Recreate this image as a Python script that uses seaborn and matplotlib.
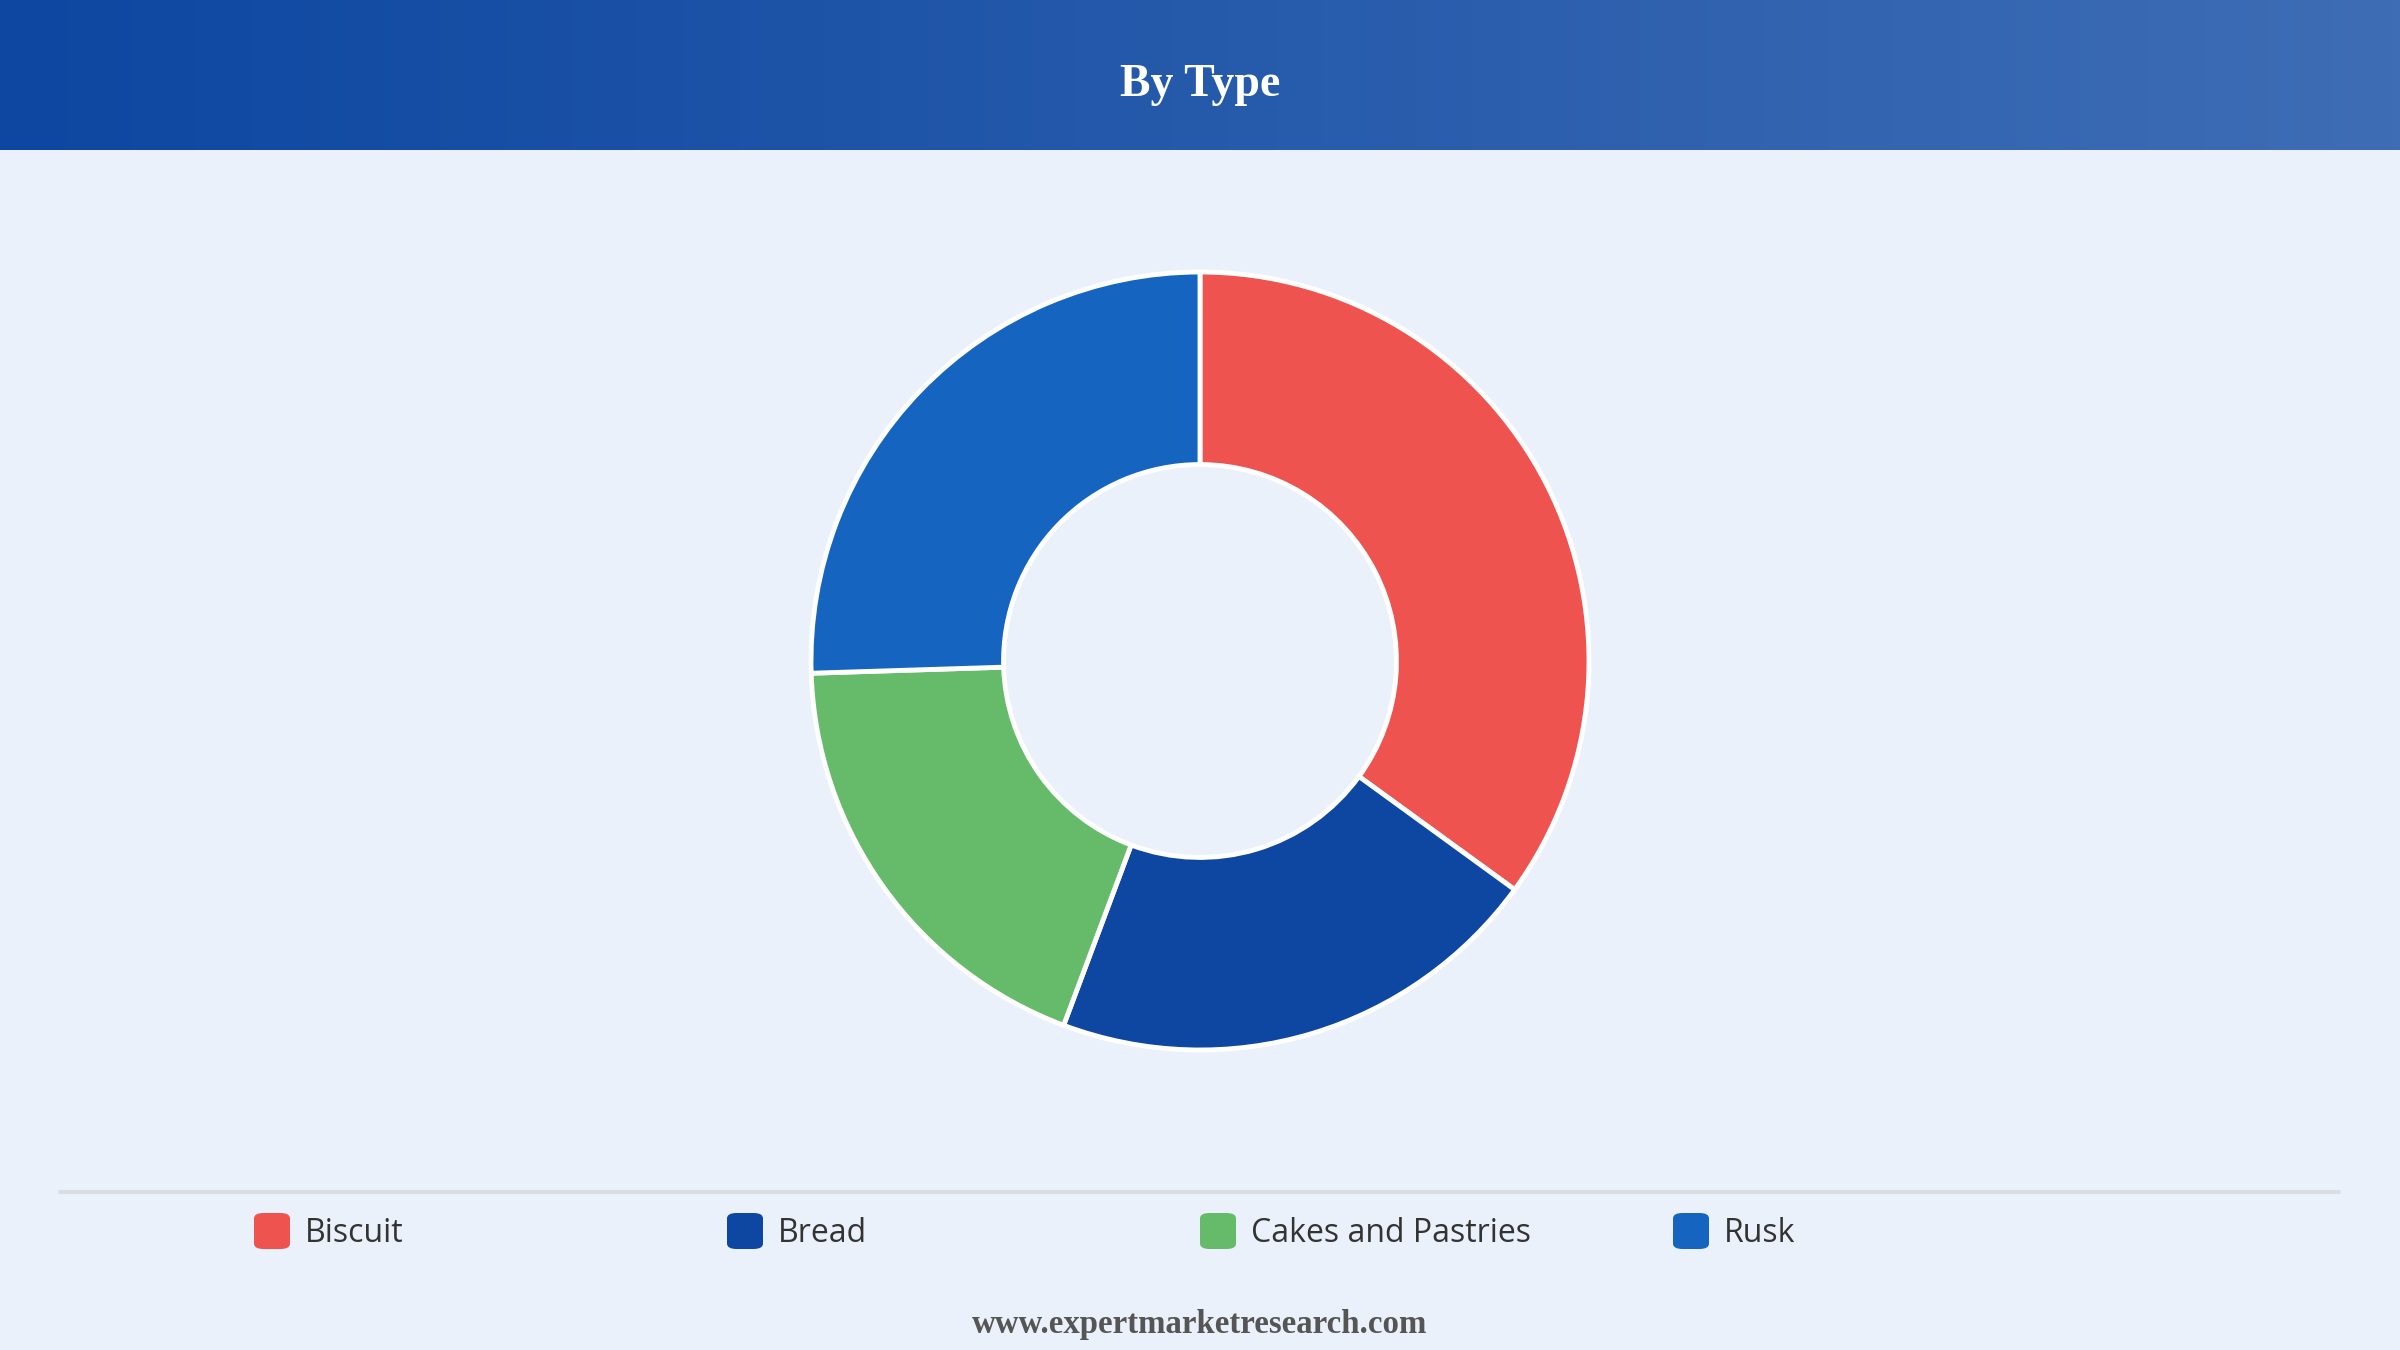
import numpy as np
import seaborn as sns
import matplotlib.pyplot as plt
from matplotlib.patches import FancyBboxPatch
from matplotlib.colors import LinearSegmentedColormap

# data
types = ['Biscuit', 'Bread', 'Cakes and Pastries', 'Rusk']
shares = [35.0, 20.7, 18.8, 25.5]
colors = ['#EF5350', '#0D47A1', '#66BB6A', '#1565C0']

sns.set_style('white')
plt.rcParams['font.family'] = ['Open Sans', 'DejaVu Sans']

W, H = 2400, 1350
bg = '#EAF1FB'
fig = plt.figure(figsize=(24, 13.5), dpi=100, facecolor=bg)

# header band with gradient
hdr = fig.add_axes([0, 1 - 150 / H, 1, 150 / H])
cmap = LinearSegmentedColormap.from_list('hdr', ['#0D47A1', '#3E6DB5'])
hdr.imshow(np.linspace(0, 1, 256).reshape(1, -1), aspect='auto', cmap=cmap,
           extent=[0, 1, 0, 1])
hdr.set_axis_off()
hdr.text(0.5, 0.43, 'By Type', color='white', ha='center', va='center',
         fontsize=33, fontweight='bold', family=['Liberation Serif', 'DejaVu Serif'])

# donut
cx, cy, r = 1200, 661, 389
pad = 1.03
side = 2 * r * pad
ax = fig.add_axes([(cx - side / 2) / W, 1 - (cy + side / 2) / H, side / W, side / H])
ax.set_facecolor('none')
ax.pie(shares, colors=colors, startangle=90, counterclock=False, radius=1,
       wedgeprops=dict(width=0.495, edgecolor='white', linewidth=3.5))
ax.set_xlim(-pad, pad)
ax.set_ylim(-pad, pad)
ax.set_aspect('equal')
ax.set_axis_off()

# separator line above legend
fig.add_artist(plt.Line2D([60 / W, 2339 / W], [1 - 1192 / H] * 2,
                          color='#DADDE2', linewidth=3))

# legend
x0, step, ly, sq = 254, 473, 1231, 36
for i, (lab, c) in enumerate(zip(types, colors)):
    x = x0 + i * step
    fig.add_artist(FancyBboxPatch(((x) / W, 1 - (ly + sq / 2) / H), sq / W, sq / H,
                                  boxstyle='round,pad=0,rounding_size=0.004',
                                  facecolor=c, edgecolor='none',
                                  transform=fig.transFigure))
    fig.text((x + sq + 15) / W, 1 - (ly + 2) / H, lab, ha='left', va='center',
             fontsize=23, color='#333333')

fig.text(0.5, 1 - 1324 / H, 'www.expertmarketresearch.com', ha='center', va='center',
         fontsize=23.7, fontweight='bold', color='#555555',
         family=['Liberation Serif', 'DejaVu Serif'])

fig.savefig('out.png', dpi=100, facecolor=bg)
